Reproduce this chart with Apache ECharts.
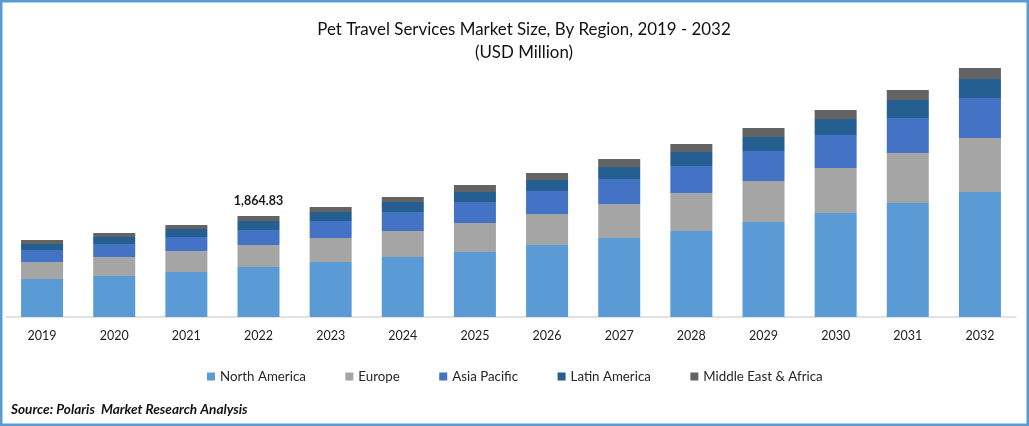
<!DOCTYPE html>
<html>
<head>
<meta charset="utf-8">
<title>Pet Travel Services Market Size</title>
<style>
  html, body { margin: 0; padding: 0; background: #fff; }
  #chart { width: 1029px; height: 426px; }
</style>
<script src="https://cdn.jsdelivr.net/npm/echarts@6/dist/echarts.min.js"></script>
</head>
<body>
<div id="chart"></div>
<script>
var years = ['2019','2020','2021','2022','2023','2024','2025','2026','2027','2028','2029','2030','2031','2032'];
var northAmerica = [701,757,831,923,1015,1108,1200,1329,1458,1588,1754,1920,2104,2308];
var europe = [314,351,388,406,443,480,535,572,628,701,757,831,923,997];
var asiaPacific = [222,240,258,277,314,351,388,425,462,498,554,609,646,738];
var latinAmerica = [111,129,148,166,166,185,185,203,222,258,258,295,332,351];
var middleEast = [74,74,74,92.83,92,92,129,129,148,148,166,166,185,203];
var labelYear = '2022';
var labelText = '1,864.83';

var font = 'Lato, "Open Sans", sans-serif';

function makeSeries(name, values, color) {
  return {
    name: name,
    type: 'bar',
    stack: 'total',
    barWidth: 42,
    itemStyle: { color: color },
    data: values
  };
}

var topSeries = makeSeries('Middle East & Africa', middleEast, '#636363');
// only 2022 carries a total label
topSeries.label = {
  show: true,
  position: 'top',
  distance: 9,
  fontFamily: font,
  fontSize: 12.5,
  fontWeight: 'bold',
  color: '#1a1a1a',
  formatter: function (p) {
    return p.name === labelYear ? labelText : '';
  }
};

var chart = echarts.init(document.getElementById('chart'));
chart.setOption({
  animation: false,
  backgroundColor: '#fff',
  title: [
    {
      text: 'Pet Travel Services Market Size, By Region, 2019 - 2032\n(USD Million)',
      left: 519,
      top: 13,
      textAlign: 'center',
      textStyle: { fontFamily: font, fontSize: 16.9, fontWeight: 'normal', color: '#111', lineHeight: 23 }
    },
    {
      text: 'Source: Polaris  Market Research Analysis',
      left: 11,
      top: 403,
      padding: 0,
      textStyle: { fontFamily: font, fontSize: 13.6, fontWeight: 'bold', fontStyle: 'italic', color: '#111' }
    }
  ],
  legend: {
    left: 207,
    top: 370,
    padding: 0,
    itemWidth: 8,
    itemHeight: 8,
    itemGap: 39.5,
    icon: 'rect',
    textStyle: { fontFamily: font, fontSize: 13.3, color: '#262626' }
  },
  grid: { left: 6, right: 13, top: 17, bottom: 109 },
  xAxis: {
    type: 'category',
    data: years,
    axisTick: { show: false },
    axisLine: { lineStyle: { color: '#d9d9d9', width: 1.5 } },
    axisLabel: { fontFamily: font, fontSize: 12.5, color: '#222', margin: 12 }
  },
  yAxis: { type: 'value', min: 0, max: 5538, show: false },
  series: [
    makeSeries('North America', northAmerica, '#5b9bd5'),
    makeSeries('Europe', europe, '#a5a5a5'),
    makeSeries('Asia Pacific', asiaPacific, '#4472c4'),
    makeSeries('Latin America', latinAmerica, '#255e91'),
    topSeries
  ],
  graphic: [
    {
      type: 'rect',
      silent: true,
      shape: { x: 1.25, y: 1.25, width: 1026.5, height: 423.5 },
      style: { fill: 'none', stroke: '#5b9bd5', lineWidth: 2.5 }
    }
  ]
});
</script>
</body>
</html>
